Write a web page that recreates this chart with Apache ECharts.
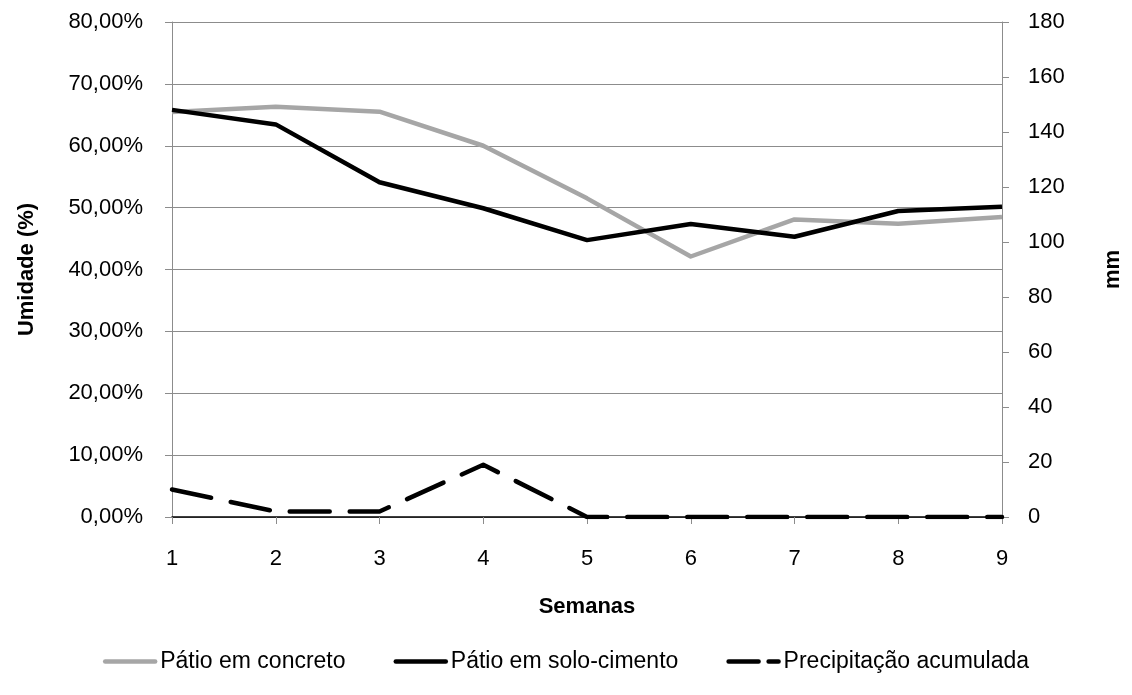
<!DOCTYPE html>
<html>
<head>
<meta charset="utf-8">
<script src="https://cdn.jsdelivr.net/npm/echarts@6/dist/echarts.min.js"></script>
<style>
  html, body { margin: 0; padding: 0; background: #fff; }
  #chart { width: 1132px; height: 695px; }
</style>
</head>
<body>
<div id="chart"></div>
<script>
// Weekly soil moisture in two yard surfaces, with accumulated rainfall
const semanas = ['1', '2', '3', '4', '5', '6', '7', '8', '9'];
const patioConcreto = [0.6545, 0.6630, 0.6550, 0.6000, 0.5150, 0.4210, 0.4810, 0.4740, 0.4850];
const patioSoloCimento = [0.6580, 0.6345, 0.5410, 0.4990, 0.4475, 0.4735, 0.4530, 0.4945, 0.5015];
const precipitacao = [10, 2, 2, 19, 0, 0, 0, 0, 0];

const FONT = 'Liberation Sans, Arial, sans-serif';
const FS = 22;
const GRID_GRAY = '#8c8c8c';
const LINE_W = 4.5;

const chart = echarts.init(document.getElementById('chart'), null, { renderer: 'canvas' });

chart.setOption({
  animation: false,
  backgroundColor: '#fff',
  textStyle: { fontFamily: FONT, color: '#000' },
  grid: { left: 172, right: 130, top: 22, bottom: 178, containLabel: false },
  legend: {
    bottom: 17,
    left: 'center',
    itemWidth: 50,
    itemHeight: 14,
    itemGap: 48,
    itemStyle: { opacity: 0 },
    lineStyle: { width: LINE_W, cap: 'round' },
    textStyle: { fontFamily: FONT, fontSize: 23, color: '#000' },
    data: [
      { name: 'Pátio em concreto' },
      { name: 'Pátio em solo-cimento' },
      { name: 'Precipitação acumulada', lineStyle: { width: LINE_W, type: [30, 10], cap: 'round' } }
    ]
  },
  xAxis: [{
    type: 'category',
    data: semanas,
    boundaryGap: false,
    name: 'Semanas',
    nameLocation: 'middle',
    nameGap: 79,
    nameTextStyle: { fontFamily: FONT, fontSize: FS, fontWeight: 'bold', color: '#000', verticalAlign: 'top' },
    axisLine: { lineStyle: { color: GRID_GRAY, width: 1 } },
    axisTick: { show: true, alignWithLabel: true, length: 7, lineStyle: { color: GRID_GRAY } },
    axisLabel: { fontFamily: FONT, fontSize: FS, color: '#000', margin: 31 },
    splitLine: { show: false }
  }, {
    // top border of the plot
    type: 'category',
    data: semanas,
    boundaryGap: false,
    position: 'top',
    axisLine: { lineStyle: { color: '#000', width: 1.5 } },
    axisTick: { show: false },
    axisLabel: { show: false },
    splitLine: { show: false }
  }],
  yAxis: [{
    type: 'value',
    min: 0,
    max: 0.8,
    interval: 0.1,
    position: 'left',
    name: 'Umidade (%)',
    nameLocation: 'middle',
    nameRotate: 90,
    nameGap: 134,
    nameTextStyle: { fontFamily: FONT, fontSize: FS, fontWeight: 'bold', color: '#000' },
    axisLine: { show: true, lineStyle: { color: GRID_GRAY, width: 1 } },
    axisTick: { show: true, inside: false, length: 7, lineStyle: { color: GRID_GRAY } },
    axisLabel: {
      fontFamily: FONT, fontSize: FS, color: '#000', margin: 29,
      formatter: v => (v * 100).toFixed(2).replace('.', ',') + '%'
    },
    splitLine: { show: true, lineStyle: { color: GRID_GRAY, width: 1 } }
  }, {
    type: 'value',
    min: 0,
    max: 180,
    interval: 20,
    position: 'right',
    name: 'mm',
    nameLocation: 'middle',
    nameRotate: 90,
    nameGap: 100,
    nameTextStyle: { fontFamily: FONT, fontSize: FS, fontWeight: 'bold', color: '#000' },
    axisLine: { show: true, lineStyle: { color: GRID_GRAY, width: 1 } },
    axisTick: { show: true, inside: false, length: 7, lineStyle: { color: GRID_GRAY } },
    axisLabel: { fontFamily: FONT, fontSize: FS, color: '#000', margin: 26 },
    splitLine: { show: false }
  }],
  series: [{
    name: 'Pátio em concreto',
    type: 'line',
    data: patioConcreto,
    yAxisIndex: 0,
    symbol: 'none',
    color: '#a6a6a6',
    lineStyle: { color: '#a6a6a6', width: LINE_W, join: 'round' },
    z: 3
  }, {
    name: 'Pátio em solo-cimento',
    type: 'line',
    data: patioSoloCimento,
    yAxisIndex: 0,
    symbol: 'none',
    color: '#000',
    lineStyle: { color: '#000', width: LINE_W, join: 'round' },
    z: 4
  }, {
    name: 'Precipitação acumulada',
    type: 'line',
    data: precipitacao,
    yAxisIndex: 1,
    symbol: 'none',
    color: '#000',
    lineStyle: { color: '#000', width: LINE_W, type: [40, 20], cap: 'round', join: 'round' },
    z: 5
  }]
});
</script>
</body>
</html>
